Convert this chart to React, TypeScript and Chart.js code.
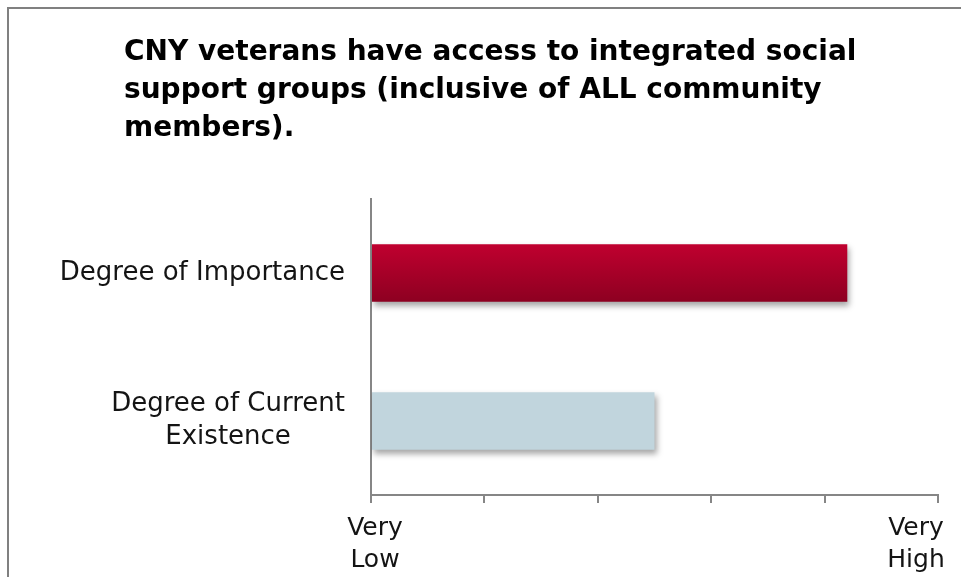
import React, { useEffect, useRef } from "react";
import { Chart, registerables } from "chart.js";

Chart.register(...registerables);

// ---- data ----
const TITLE_LINES = [
  "CNY veterans have access to integrated social",
  "support groups (inclusive of ALL community",
  "members).",
];
const CATEGORIES: (string | string[])[] = [
  "Degree of Importance",
  ["Degree of Current", "Existence"],
];
const VALUES = [4.2, 2.5];
const X_TICK_LABELS: (string | string[])[] = [
  ["Very", "Low"],
  "",
  "",
  "",
  "",
  ["Very", "High"],
];
const SCALE_MIN = 0;
const SCALE_MAX = 5;

const RED_TOP = "#c0002f";
const RED_BOTTOM = "#8d0021";
const BLUE = "#c1d5dd";
const AXIS = "#868686";
const TEXT = "#141414";

const barStylePlugin = {
  id: "barStyle",
  beforeDatasetsDraw(chart: any) {
    const ctx = chart.ctx;
    const meta = chart.getDatasetMeta(0);
    const el = meta.data[0];
    if (el) {
      const { y, height } = el.getProps(["y", "height"], true);
      const g = ctx.createLinearGradient(0, y - height / 2, 0, y + height / 2);
      g.addColorStop(0, RED_TOP);
      g.addColorStop(1, RED_BOTTOM);
      el.options = Object.assign({}, el.options, { backgroundColor: g });
    }
    ctx.save();
    ctx.shadowColor = "rgba(0,0,0,0.35)";
    ctx.shadowBlur = 6;
    ctx.shadowOffsetX = 2;
    ctx.shadowOffsetY = 4;
  },
  afterDatasetsDraw(chart: any) {
    chart.ctx.restore();
  },
};

const TITLE_LEFT = 115;

const labelTweakPlugin = {
  id: "labelTweak",
  afterLayout(chart: any) {
    if (chart.titleBlock) chart.titleBlock.left = TITLE_LEFT;
  },
  beforeDraw(chart: any) {
    const ctx = chart.ctx;
    const ys = chart.scales.y;
    const yItems = ys.getLabelItems();
    yItems.forEach((it: any) => {
      if (Array.isArray(it.label) && it.label.length > 1) {
        ctx.save();
        ctx.font = it.font.string;
        const w = Math.max(...it.label.map((l: string) => ctx.measureText(l).width));
        ctx.restore();
        it.options.textAlign = "center";
        it.options.translation[0] -= w / 2;
      }
    });
    const xs = chart.scales.x;
    const xItems = xs.getLabelItems();
    const nonEmpty = xItems.filter((it: any) => Array.isArray(it.label) || (it.label && it.label !== ""));
    const last = nonEmpty[nonEmpty.length - 1];
    if (last) last.options.translation[0] -= 22;
    const first = nonEmpty[0];
    if (first && first !== last) first.options.translation[0] += 4;
  },
};

export default function App() {
  const ref = useRef<HTMLCanvasElement | null>(null);

  useEffect(() => {
    if (!ref.current) return;
    const chart = new Chart(ref.current, {
      type: "bar",
      data: {
        labels: CATEGORIES,
        datasets: [
          {
            data: VALUES,
            backgroundColor: [RED_TOP, BLUE],
            borderWidth: 0,
            categoryPercentage: 1,
            barPercentage: 0.39,
          },
        ],
      },
      options: {
        indexAxis: "y",
        animation: false,
        responsive: false,
        devicePixelRatio: 1,
        layout: { padding: { left: 10, right: 71, top: 0, bottom: 0 } },
        plugins: {
          legend: { display: false },
          tooltip: { enabled: false },
          title: {
            display: true,
            text: TITLE_LINES,
            align: "start",
            color: "#000",
            font: { family: "'DejaVu Sans'", size: 28, weight: "bold", lineHeight: 1.357 },
            padding: { top: 25, bottom: 51 },
          },
        },
        scales: {
          x: {
            type: "linear",
            min: SCALE_MIN,
            max: SCALE_MAX,
            afterFit: (s: any) => {
              s.height = 114;
            },
            ticks: {
              stepSize: 1,
              autoSkip: false,
              maxRotation: 0,
              padding: 9,
              color: TEXT,
              font: { family: "'DejaVu Sans'", size: 25, lineHeight: 1.28 },
              callback: (v: any) => X_TICK_LABELS[Math.round(Number(v))] ?? "",
            },
            grid: {
              display: true,
              drawOnChartArea: false,
              drawTicks: true,
              tickLength: 8,
              color: AXIS,
              lineWidth: 2,
            },
            border: { display: true, color: AXIS, width: 2 },
          },
          y: {
            type: "category",
            afterFit: (s: any) => {
              s.width = 352;
            },
            ticks: {
              padding: 26,
              color: TEXT,
              font: { family: "'DejaVu Sans'", size: 26, lineHeight: 1.25 },
            },
            grid: { display: false, drawTicks: false, tickLength: 0 },
            border: { display: true, color: AXIS, width: 2 },
          },
        },
      },
      plugins: [barStylePlugin, labelTweakPlugin],
    } as any);
    return () => chart.destroy();
  }, []);

  return (
    <div
      style={{
        position: "fixed",
        left: 0,
        top: 0,
        width: 961,
        height: 577,
        overflow: "hidden",
        background: "#fff",
      }}
    >
      <div
        style={{
          position: "absolute",
          left: 7,
          top: 7,
          borderLeft: "2px solid #808080",
          borderTop: "2px solid #808080",
        }}
      >
        <canvas ref={ref} width={1000} height={600} style={{ display: "block", width: 1000, height: 600 }} />
      </div>
    </div>
  );
}
